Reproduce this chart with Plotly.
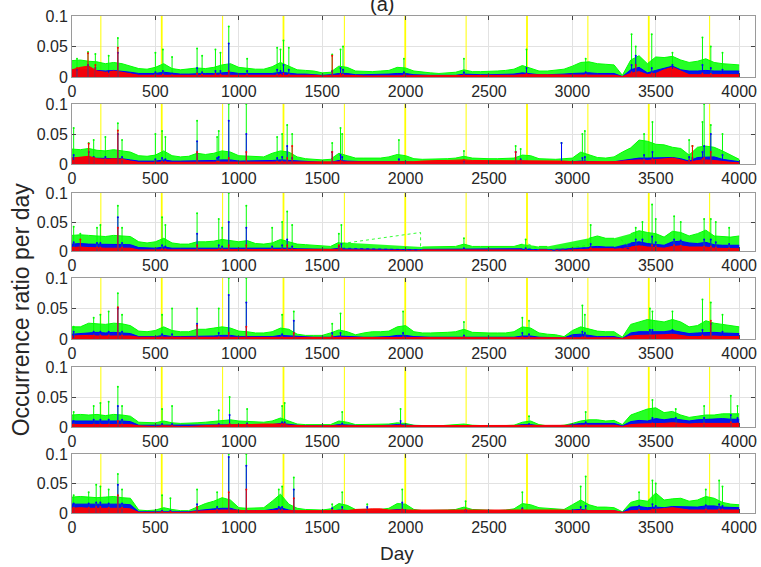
import plotly.graph_objects as go

# ---------------- data ----------------
days = list(range(0, 4001, 50))
year_marks = [173, 538, 903, 1268, 1633, 1998, 2363, 2728, 3093, 3458, 3823]
year_bright = [False, True, False, True, False, True, False, True, False, True, False]
x_ticks = [0, 500, 1000, 1500, 2000, 2500, 3000, 3500, 4000]
y_ticks = [0, 0.05, 0.1]
y_tick_text = ["0", "0.05", "0.1"]
N = None

# Panel 1
g1 = [0.027, 0.028, 0.026, 0.025, 0.022, 0.024, 0.022, 0.018, 0.014, 0.013,
      0.016, 0.022, 0.014, 0.012, 0.013, 0.015, 0.014, 0.016, 0.020, 0.022,
      0.016, 0.014, 0.013, 0.013, 0.017, 0.024, 0.018, 0.012, 0.011, 0.010,
      0.007, 0.008, 0.018, 0.016, 0.010, 0.009, 0.009, 0.010, 0.011, 0.016,
      0.015, 0.010, 0.008, 0.007, 0.006, 0.007, 0.008, 0.012, 0.009, 0.009,
      0.009, 0.010, 0.011, 0.013, 0.019, 0.015, 0.010, 0.010, 0.011, 0.013,
      0.018, 0.024, 0.025, 0.022, 0.021, 0.020, 0.003, 0.028, 0.035, 0.022,
      0.033, 0.032, 0.034, 0.028, 0.024, 0.026, 0.030, 0.024, 0.022, 0.021,
      0.020]
b1 = [0.012, 0.013, 0.012, 0.011, 0.010, 0.011, 0.010, 0.008, 0.006, 0.006,
      0.006, 0.008, 0.006, 0.005, 0.005, 0.006, 0.006, 0.006, 0.007, 0.008,
      0.006, 0.006, 0.005, 0.005, 0.006, 0.008, 0.006, 0.005, 0.005, 0.004,
      0.003, 0.004, 0.006, 0.006, 0.004, 0.004, 0.004, 0.004, 0.005, 0.006,
      0.006, 0.004, 0.003, 0.003, 0.003, 0.003, 0.003, 0.005, 0.004, 0.004,
      0.004, 0.004, 0.004, 0.005, 0.007, 0.005, 0.004, 0.004, 0.004, 0.005,
      0.006, 0.007, 0.007, 0.006, 0.006, 0.006, 0.001, 0.012, 0.016, 0.007,
      0.011, 0.014, 0.018, 0.012, 0.010, 0.010, 0.011, 0.010, 0.010, 0.010,
      0.010]
r1 = [0.012, 0.016, 0.018, 0.010, 0.008, 0.010, 0.008, 0.005, 0.003, 0.003,
      0.003, 0.004, 0.003, 0.003, 0.003, 0.003, 0.003, 0.003, 0.004, 0.004,
      0.003, 0.003, 0.003, 0.003, 0.003, 0.004, 0.003, 0.003, 0.003, 0.003,
      0.002, 0.003, 0.003, 0.003, 0.002, 0.002, 0.002, 0.002, 0.003, 0.003,
      0.003, 0.002, 0.002, 0.002, 0.002, 0.002, 0.002, 0.003, 0.002, 0.002,
      0.002, 0.002, 0.003, 0.003, 0.004, 0.004, 0.004, 0.004, 0.004, 0.004,
      0.003, 0.003, 0.003, 0.003, 0.003, 0.003, 0.001, 0.006, 0.009, 0.004,
      0.006, 0.012, 0.016, 0.010, 0.004, 0.004, 0.004, 0.004, 0.004, 0.004,
      0.004]
s1_days = [30, 96, 140, 220, 275, 500, 545, 600, 750, 780, 860, 890, 940, 1050, 1230, 1250,
           1268, 1300, 1560, 1610, 1625, 1990, 2350, 2725, 3080, 3355, 3380, 3476, 3600,
           3780, 3830, 3900]
s1_g = [0.030, 0.041, 0.038, 0.035, 0.064, 0.040, 0.045, 0.033, 0.047, 0.035, 0.045, 0.040,
        0.083, 0.030, 0.048, 0.045, 0.060, 0.048, 0.037, 0.045, 0.050, 0.030, 0.030, 0.045,
        0.030, 0.070, 0.050, 0.070, 0.040, 0.065, 0.050, 0.040]
s1_b = [0.012, 0.020, 0.015, 0.010, 0.040, 0.008, 0.010, 0.006, 0.015, 0.008, 0.010, 0.010,
        0.055, 0.010, 0.012, 0.010, 0.020, 0.012, 0.010, 0.015, 0.012, 0.008, 0.008, 0.015,
        0.008, 0.020, 0.035, 0.015, 0.020, 0.020, 0.015, 0.012]
s1_r = [0.015, 0.039, 0.020, 0.005, 0.048, 0.004, 0.004, 0.003, 0.006, 0.004, 0.005, 0.004,
        0.010, 0.004, 0.004, 0.004, 0.006, 0.004, 0.035, 0.005, 0.004, 0.003, 0.003, 0.005,
        0.004, 0.008, 0.020, 0.006, 0.012, 0.006, 0.005, 0.004]

# Panel 2
g2 = [0.025, 0.024, 0.026, 0.023, 0.022, 0.024, 0.022, 0.020, 0.014, 0.013,
      0.015, 0.022, 0.014, 0.012, 0.013, 0.018, 0.016, 0.018, 0.022, 0.020,
      0.014, 0.013, 0.012, 0.012, 0.018, 0.022, 0.020, 0.012, 0.009, 0.008,
      0.007, 0.008, 0.018, 0.014, 0.010, 0.010, 0.010, 0.010, 0.012, 0.016,
      0.014, 0.009, 0.008, 0.008, 0.008, 0.009, 0.010, 0.013, 0.010, 0.009,
      0.009, 0.009, 0.009, 0.010, 0.015, 0.014, 0.009, 0.008, 0.008, 0.009,
      0.010, 0.020, 0.016, 0.011, 0.010, 0.012, 0.020, 0.027, 0.040, 0.038,
      0.033, 0.032, 0.028, 0.026, 0.015, 0.028, 0.030, 0.028, 0.022, 0.015,
      0.008]
b2 = [0.010, 0.011, 0.010, 0.010, 0.009, 0.010, 0.009, 0.007, 0.005, 0.005,
      0.005, 0.007, 0.005, 0.005, 0.005, 0.006, 0.006, 0.006, 0.007, 0.007,
      0.005, 0.005, 0.005, 0.005, 0.006, 0.007, 0.006, 0.005, 0.004, 0.004,
      0.003, 0.003, 0.006, 0.005, 0.004, 0.004, 0.004, 0.004, 0.004, 0.005,
      0.004, 0.003, 0.003, 0.003, 0.003, 0.003, 0.003, 0.003, 0.003, 0.003,
      0.003, 0.003, 0.003, 0.004, 0.005, 0.004, 0.003, 0.003, 0.003, 0.003,
      0.004, 0.005, 0.004, 0.003, 0.003, 0.004, 0.006, 0.008, 0.010, 0.010,
      0.010, 0.011, 0.011, 0.009, 0.005, 0.011, 0.012, 0.012, 0.008, 0.006,
      0.004]
r2 = [0.010, 0.012, 0.013, 0.009, 0.008, 0.009, 0.008, 0.005, 0.003, 0.003,
      0.003, 0.004, 0.003, 0.003, 0.003, 0.003, 0.003, 0.003, 0.003, 0.003,
      0.003, 0.003, 0.003, 0.003, 0.003, 0.004, 0.003, 0.003, 0.003, 0.003,
      0.003, 0.003, 0.004, 0.004, 0.003, 0.003, 0.003, 0.003, 0.004, 0.004,
      0.004, 0.004, 0.005, 0.006, 0.006, 0.006, 0.007, 0.007, 0.006, 0.006,
      0.006, 0.006, 0.006, 0.006, 0.006, 0.006, 0.006, 0.006, 0.006, 0.005,
      0.004, 0.004, 0.004, 0.003, 0.003, 0.004, 0.005, 0.006, 0.007, 0.006,
      0.007, 0.009, 0.010, 0.007, 0.003, 0.006, 0.007, 0.006, 0.004, 0.003,
      0.002]
s2_days = [10, 100, 130, 200, 275, 300, 500, 540, 560, 750, 870, 880, 940, 1045, 1230, 1260,
           1290, 1320, 1560, 1610, 1620, 1960, 2350, 2660, 2690, 2935, 3060, 3075, 3430,
           3480, 3700, 3720, 3780, 3790, 3830, 3900]
s2_g = [0.060, 0.035, 0.040, 0.045, 0.068, 0.040, 0.050, 0.055, 0.045, 0.072, 0.045, 0.055,
        0.100, 0.100, 0.045, 0.050, 0.065, 0.050, 0.035, 0.060, 0.050, 0.040, 0.022, 0.030,
        0.025, 0.035, 0.050, 0.055, 0.050, 0.070, 0.040, 0.030, 0.070, 0.100, 0.065, 0.050]
s2_b = [0.015, 0.020, 0.012, 0.012, 0.050, 0.012, 0.008, 0.010, 0.008, 0.038, 0.010, 0.012,
        0.072, 0.050, 0.010, 0.012, 0.030, 0.010, 0.020, 0.015, 0.012, 0.008, 0.005, 0.020,
        0.008, 0.035, 0.010, 0.012, 0.015, 0.020, 0.012, 0.010, 0.020, 0.030, 0.050, 0.015]
s2_r = [0.005, 0.034, 0.010, 0.008, 0.056, 0.008, 0.004, 0.004, 0.004, 0.020, 0.004, 0.004,
        0.010, 0.020, 0.004, 0.004, 0.010, 0.030, 0.020, 0.005, 0.004, 0.004, 0.007, 0.020,
        0.006, 0.004, 0.004, 0.004, 0.007, 0.008, 0.006, 0.030, 0.008, 0.010, 0.020, 0.004]

# Panel 3 (None = missing days)
g3 = [0.027, 0.028, 0.027, 0.026, 0.025, 0.027, 0.026, 0.025, 0.016, 0.014,
      0.016, 0.022, 0.014, 0.012, 0.012, 0.016, 0.016, 0.017, 0.020, 0.018,
      0.016, 0.018, 0.013, 0.012, 0.014, 0.020, 0.016, 0.012, 0.011, 0.010,
      0.008, 0.008, 0.015, N, N, N, N, N, N, N,
      N, N, 0.007, 0.007, 0.007, 0.008, 0.008, 0.012, 0.008, 0.008,
      0.008, 0.008, 0.008, 0.008, 0.012, N, 0.008, 0.008, N, N,
      N, N, 0.022, 0.026, 0.022, 0.022, N, 0.030, 0.035, 0.032,
      0.030, 0.024, 0.034, 0.032, 0.026, 0.030, 0.036, 0.026, 0.025, 0.024,
      0.026]
b3 = [0.012, 0.013, 0.012, 0.012, 0.011, 0.012, 0.012, 0.011, 0.006, 0.005,
      0.005, 0.007, 0.005, 0.005, 0.005, 0.006, 0.005, 0.005, 0.006, 0.006,
      0.005, 0.006, 0.005, 0.005, 0.005, 0.006, 0.005, 0.004, 0.004, 0.004,
      0.003, 0.003, 0.005, N, N, N, N, N, N, N,
      N, N, 0.003, 0.003, 0.003, 0.003, 0.003, 0.004, 0.003, 0.003,
      0.003, 0.003, 0.003, 0.003, 0.004, N, 0.003, 0.003, N, N,
      N, N, 0.007, 0.008, 0.007, 0.007, N, 0.014, 0.016, 0.013,
      0.011, 0.010, 0.016, 0.017, 0.014, 0.013, 0.015, 0.011, 0.010, 0.010,
      0.010]
r3 = [0.006, 0.007, 0.006, 0.005, 0.005, 0.005, 0.005, 0.005, 0.002, 0.002,
      0.002, 0.003, 0.002, 0.002, 0.002, 0.002, 0.002, 0.002, 0.003, 0.002,
      0.002, 0.002, 0.002, 0.002, 0.002, 0.003, 0.002, 0.002, 0.002, 0.002,
      0.002, 0.002, 0.003, N, N, N, N, N, N, N,
      N, N, 0.002, 0.002, 0.002, 0.002, 0.002, 0.002, 0.002, 0.002,
      0.002, 0.002, 0.002, 0.002, 0.002, N, 0.002, 0.002, N, N,
      N, N, 0.004, 0.004, 0.004, 0.004, N, 0.007, 0.009, 0.007,
      0.006, 0.005, 0.008, 0.009, 0.007, 0.007, 0.007, 0.005, 0.005, 0.005,
      0.004]
s3_days = [10, 50, 150, 170, 275, 300, 540, 560, 750, 880, 900, 940, 1045, 1200, 1260, 1290,
           1320, 1600, 1615, 2350, 2720, 3110, 3380, 3420, 3478, 3500, 3610, 3650, 3790,
           3830, 3860, 3940]
s3_g = [0.042, 0.030, 0.040, 0.045, 0.078, 0.040, 0.058, 0.045, 0.065, 0.055, 0.040, 0.100,
        0.078, 0.040, 0.050, 0.068, 0.045, 0.030, 0.045, 0.022, 0.020, 0.045, 0.040, 0.050,
        0.080, 0.055, 0.060, 0.050, 0.055, 0.055, 0.050, 0.040]
s3_b = [0.015, 0.012, 0.014, 0.014, 0.058, 0.014, 0.010, 0.008, 0.030, 0.010, 0.008, 0.050,
        0.040, 0.008, 0.010, 0.020, 0.008, 0.008, 0.012, 0.005, 0.005, 0.012, 0.020, 0.020,
        0.025, 0.015, 0.020, 0.018, 0.020, 0.020, 0.015, 0.012]
s3_r = [0.006, 0.020, 0.006, 0.006, 0.040, 0.006, 0.003, 0.003, 0.010, 0.003, 0.003, 0.010,
        0.010, 0.003, 0.003, 0.010, 0.003, 0.010, 0.004, 0.002, 0.002, 0.005, 0.008, 0.008,
        0.010, 0.008, 0.010, 0.009, 0.008, 0.008, 0.006, 0.005]
# straight segments drawn across the missing days of panel 3
br3_days = [1620, 2090, 2090, None, 2735, 2800, None, 2880, 3100, None, 3290, 3340]
br3_g = [0.013, 0.032, 0.007, None, 0.012, 0.004, None, 0.002, 0.010, None, 0.020, 0.008]
br3_b = [0.005, 0.002, 0.003, None, 0.004, 0.002, None, 0.001, 0.006, None, 0.006, 0.004]

# Panel 4
g4 = [0.020, 0.020, 0.026, 0.025, 0.024, 0.026, 0.025, 0.022, 0.013, 0.012,
      0.014, 0.020, 0.014, 0.012, 0.012, 0.016, 0.016, 0.018, 0.020, 0.018,
      0.013, 0.012, 0.010, 0.010, 0.012, 0.018, 0.016, 0.008, 0.006, 0.006,
      0.006, 0.010, 0.015, 0.012, 0.007, 0.010, 0.012, 0.012, 0.013, 0.020,
      0.022, 0.012, 0.010, 0.010, 0.010, 0.011, 0.012, 0.016, 0.011, 0.010,
      0.010, 0.010, 0.010, 0.012, 0.020, 0.018, 0.010, 0.008, 0.007, 0.004,
      0.014, 0.020, 0.016, 0.013, 0.012, 0.012, 0.003, 0.024, 0.028, 0.032,
      0.030, 0.028, 0.032, 0.028, 0.020, 0.022, 0.030, 0.026, 0.024, 0.022,
      0.020]
b4 = [0.008, 0.009, 0.010, 0.011, 0.010, 0.011, 0.010, 0.009, 0.004, 0.004,
      0.004, 0.006, 0.004, 0.004, 0.004, 0.005, 0.005, 0.005, 0.006, 0.006,
      0.004, 0.004, 0.004, 0.004, 0.004, 0.006, 0.005, 0.004, 0.003, 0.003,
      0.003, 0.003, 0.005, 0.004, 0.003, 0.003, 0.003, 0.003, 0.004, 0.006,
      0.006, 0.004, 0.003, 0.003, 0.003, 0.003, 0.003, 0.004, 0.003, 0.003,
      0.003, 0.003, 0.003, 0.003, 0.005, 0.005, 0.003, 0.003, 0.003, 0.002,
      0.007, 0.008, 0.006, 0.004, 0.004, 0.004, 0.001, 0.010, 0.012, 0.012,
      0.011, 0.012, 0.014, 0.012, 0.009, 0.010, 0.011, 0.011, 0.010, 0.010,
      0.009]
r4 = [0.005, 0.006, 0.006, 0.005, 0.005, 0.006, 0.005, 0.005, 0.003, 0.003,
      0.003, 0.003, 0.003, 0.003, 0.003, 0.003, 0.003, 0.003, 0.003, 0.003,
      0.003, 0.003, 0.003, 0.003, 0.003, 0.003, 0.003, 0.003, 0.003, 0.003,
      0.003, 0.003, 0.003, 0.003, 0.003, 0.003, 0.003, 0.003, 0.003, 0.003,
      0.003, 0.003, 0.003, 0.003, 0.003, 0.003, 0.003, 0.003, 0.003, 0.003,
      0.003, 0.003, 0.003, 0.003, 0.003, 0.003, 0.003, 0.003, 0.003, 0.002,
      0.003, 0.003, 0.003, 0.002, 0.002, 0.002, 0.001, 0.005, 0.006, 0.006,
      0.007, 0.007, 0.008, 0.006, 0.004, 0.004, 0.005, 0.005, 0.004, 0.004,
      0.004]
s4_days = [10, 130, 170, 220, 275, 300, 540, 600, 750, 880, 940, 1045, 1260, 1330, 1560, 1610,
           1985, 2350, 2700, 2740, 3060, 3075, 3465, 3480, 3600, 3780, 3830, 3900]
s4_g = [0.020, 0.035, 0.040, 0.045, 0.075, 0.040, 0.040, 0.050, 0.050, 0.050, 0.100, 0.100,
        0.040, 0.045, 0.025, 0.042, 0.045, 0.028, 0.035, 0.030, 0.055, 0.040, 0.050, 0.045,
        0.045, 0.065, 0.060, 0.040]
s4_b = [0.012, 0.012, 0.012, 0.012, 0.050, 0.012, 0.008, 0.008, 0.025, 0.010, 0.072, 0.060,
        0.008, 0.030, 0.010, 0.010, 0.010, 0.006, 0.010, 0.008, 0.012, 0.010, 0.015, 0.015,
        0.015, 0.015, 0.025, 0.012]
s4_r = [0.000, 0.006, 0.006, 0.006, 0.052, 0.006, 0.003, 0.003, 0.022, 0.003, 0.010, 0.020,
        0.003, 0.010, 0.005, 0.003, 0.003, 0.003, 0.003, 0.003, 0.003, 0.003, 0.006, 0.006,
        0.007, 0.006, 0.030, 0.004]

# Panel 5
g5 = [0.020, 0.021, 0.020, 0.021, 0.019, 0.021, 0.020, 0.018, 0.008, 0.007,
      0.007, 0.010, 0.007, 0.006, 0.006, 0.007, 0.008, 0.009, 0.010, 0.012,
      0.010, 0.009, 0.008, 0.008, 0.010, 0.015, 0.010, 0.005, 0.004, 0.004,
      0.004, 0.004, 0.010, 0.008, 0.004, 0.004, 0.004, 0.004, 0.005, 0.007,
      0.006, 0.003, 0.002, 0.002, 0.002, 0.003, 0.003, 0.005, 0.003, 0.002,
      0.002, 0.002, 0.002, 0.003, 0.008, 0.010, 0.004, 0.002, 0.002, 0.003,
      0.006, 0.010, 0.012, 0.012, 0.010, 0.011, 0.004, 0.020, 0.025, 0.030,
      0.032, 0.024, 0.026, 0.020, 0.016, 0.018, 0.020, 0.020, 0.022, 0.022,
      0.022]
b5 = [0.010, 0.010, 0.011, 0.010, 0.010, 0.011, 0.010, 0.009, 0.003, 0.003,
      0.003, 0.003, 0.003, 0.003, 0.003, 0.003, 0.003, 0.003, 0.004, 0.004,
      0.004, 0.003, 0.003, 0.003, 0.004, 0.006, 0.004, 0.003, 0.002, 0.002,
      0.002, 0.002, 0.004, 0.003, 0.002, 0.002, 0.002, 0.002, 0.003, 0.004,
      0.003, 0.002, 0.002, 0.002, 0.002, 0.002, 0.002, 0.002, 0.002, 0.002,
      0.002, 0.002, 0.002, 0.002, 0.004, 0.004, 0.002, 0.002, 0.002, 0.002,
      0.004, 0.006, 0.006, 0.006, 0.005, 0.006, 0.002, 0.009, 0.011, 0.010,
      0.014, 0.012, 0.014, 0.012, 0.010, 0.012, 0.013, 0.013, 0.014, 0.013,
      0.013]
r5 = [0.004, 0.004, 0.004, 0.004, 0.004, 0.005, 0.004, 0.004, 0.002, 0.001,
      0.001, 0.002, 0.001, 0.001, 0.001, 0.002, 0.002, 0.003, 0.003, 0.004,
      0.004, 0.004, 0.005, 0.005, 0.005, 0.005, 0.003, 0.002, 0.002, 0.002,
      0.002, 0.002, 0.002, 0.002, 0.002, 0.002, 0.002, 0.002, 0.002, 0.002,
      0.002, 0.002, 0.002, 0.002, 0.002, 0.002, 0.002, 0.002, 0.002, 0.002,
      0.002, 0.002, 0.002, 0.002, 0.002, 0.002, 0.002, 0.002, 0.002, 0.002,
      0.003, 0.003, 0.003, 0.003, 0.003, 0.003, 0.001, 0.004, 0.005, 0.005,
      0.006, 0.006, 0.007, 0.006, 0.005, 0.006, 0.006, 0.006, 0.006, 0.006,
      0.006]
s5_days = [10, 130, 170, 220, 275, 300, 540, 600, 880, 945, 1050, 1260, 1275, 1620, 1970,
           2740, 3080, 3480, 3620, 3790, 3950, 3990]
s5_g = [0.025, 0.035, 0.040, 0.042, 0.067, 0.035, 0.030, 0.035, 0.028, 0.050, 0.030, 0.035,
        0.040, 0.025, 0.030, 0.018, 0.025, 0.045, 0.030, 0.035, 0.052, 0.035]
s5_b = [0.010, 0.012, 0.012, 0.012, 0.035, 0.012, 0.005, 0.005, 0.005, 0.020, 0.006, 0.008,
        0.008, 0.006, 0.010, 0.005, 0.008, 0.015, 0.015, 0.015, 0.020, 0.015]
s5_r = [0.004, 0.004, 0.004, 0.004, 0.010, 0.004, 0.002, 0.002, 0.003, 0.005, 0.004, 0.005,
        0.005, 0.002, 0.003, 0.002, 0.003, 0.006, 0.006, 0.006, 0.008, 0.006]

# Panel 6
g6 = [0.027, 0.028, 0.027, 0.026, 0.027, 0.028, 0.026, 0.025, 0.005, 0.004,
      0.005, 0.009, 0.006, 0.004, 0.004, 0.010, 0.016, 0.020, 0.026, 0.022,
      0.009, 0.008, 0.008, 0.009, 0.020, 0.032, 0.015, 0.008, 0.006, 0.005,
      0.005, 0.007, 0.016, 0.013, 0.006, 0.006, 0.006, 0.006, 0.008, 0.016,
      0.015, 0.006, 0.004, 0.004, 0.004, 0.005, 0.006, 0.010, 0.006, 0.005,
      0.004, 0.004, 0.005, 0.007, 0.016, 0.014, 0.009, 0.008, 0.006, 0.006,
      0.014, 0.022, 0.014, 0.010, 0.010, 0.009, 0.002, 0.018, 0.022, 0.020,
      0.034, 0.022, 0.024, 0.025, 0.020, 0.022, 0.028, 0.025, 0.018, 0.015,
      0.014]
b6 = [0.015, 0.015, 0.016, 0.015, 0.015, 0.016, 0.015, 0.014, 0.002, 0.002,
      0.002, 0.003, 0.002, 0.002, 0.002, 0.004, 0.006, 0.007, 0.008, 0.008,
      0.004, 0.004, 0.004, 0.004, 0.006, 0.009, 0.005, 0.003, 0.003, 0.003,
      0.003, 0.003, 0.005, 0.004, 0.003, 0.003, 0.003, 0.003, 0.004, 0.006,
      0.005, 0.002, 0.002, 0.002, 0.002, 0.002, 0.002, 0.003, 0.002, 0.002,
      0.002, 0.002, 0.002, 0.002, 0.004, 0.004, 0.003, 0.002, 0.002, 0.002,
      0.005, 0.006, 0.004, 0.004, 0.004, 0.004, 0.001, 0.010, 0.011, 0.009,
      0.010, 0.009, 0.011, 0.011, 0.010, 0.010, 0.012, 0.012, 0.010, 0.009,
      0.009]
r6 = [0.008, 0.009, 0.008, 0.008, 0.008, 0.009, 0.008, 0.007, 0.001, 0.001,
      0.001, 0.001, 0.001, 0.001, 0.001, 0.003, 0.004, 0.004, 0.005, 0.005,
      0.004, 0.004, 0.004, 0.004, 0.004, 0.005, 0.004, 0.004, 0.004, 0.004,
      0.004, 0.004, 0.004, 0.004, 0.006, 0.007, 0.007, 0.007, 0.005, 0.005,
      0.005, 0.005, 0.005, 0.006, 0.006, 0.006, 0.005, 0.005, 0.005, 0.005,
      0.005, 0.005, 0.005, 0.005, 0.006, 0.006, 0.006, 0.005, 0.005, 0.005,
      0.004, 0.004, 0.004, 0.004, 0.004, 0.004, 0.001, 0.004, 0.004, 0.004,
      0.006, 0.008, 0.009, 0.007, 0.005, 0.005, 0.005, 0.005, 0.005, 0.005,
      0.005]
s6_days = [10, 100, 145, 170, 220, 275, 300, 540, 590, 750, 870, 940, 1045, 1240, 1260, 1330,
           1560, 1620, 1770, 1980, 2360, 2700, 3050, 3080, 3400, 3480, 3500, 3800, 3880, 3900]
s6_g = [0.030, 0.035, 0.048, 0.045, 0.040, 0.066, 0.040, 0.030, 0.025, 0.040, 0.035, 0.100,
        0.100, 0.040, 0.045, 0.060, 0.015, 0.035, 0.015, 0.040, 0.020, 0.035, 0.045, 0.062,
        0.035, 0.055, 0.050, 0.040, 0.055, 0.045]
s6_b = [0.016, 0.016, 0.018, 0.018, 0.016, 0.048, 0.016, 0.004, 0.004, 0.015, 0.010, 0.095,
        0.080, 0.010, 0.010, 0.040, 0.008, 0.010, 0.010, 0.018, 0.004, 0.008, 0.010, 0.012,
        0.012, 0.015, 0.012, 0.013, 0.015, 0.012]
s6_r = [0.009, 0.009, 0.010, 0.010, 0.009, 0.030, 0.009, 0.002, 0.002, 0.010, 0.005, 0.035,
        0.040, 0.005, 0.005, 0.025, 0.005, 0.005, 0.005, 0.006, 0.006, 0.006, 0.005, 0.005,
        0.005, 0.006, 0.006, 0.006, 0.006, 0.006]

panels = [
    (g1, b1, r1, s1_days, s1_g, s1_b, s1_r, None),
    (g2, b2, r2, s2_days, s2_g, s2_b, s2_r, None),
    (g3, b3, r3, s3_days, s3_g, s3_b, s3_r, (br3_days, br3_g, br3_b)),
    (g4, b4, r4, s4_days, s4_g, s4_b, s4_r, None),
    (g5, b5, r5, s5_days, s5_g, s5_b, s5_r, None),
    (g6, b6, r6, s6_days, s6_g, s6_b, s6_r, None),
]

# ---------------- layout geometry ----------------
domains = [(0.877, 1.0), (0.702, 0.823), (0.527, 0.644),
           (0.350, 0.4728), (0.173, 0.2938), (0.0, 0.1187)]
GREEN, BLUE, RED, YELLOW = "#00FF00", "#0000FF", "#FF0000", "#FFFF00"
FILLS = {GREEN: "rgba(0,255,0,0.85)", BLUE: "rgba(0,0,255,0.9)", RED: "rgba(255,0,0,0.95)"}
TXT = "#262626"
FONT = "Liberation Sans Narrow, Arial Narrow, Liberation Sans, Arial, sans-serif"


def vlines(xs, ys):
    X, Y = [], []
    for x, y in zip(xs, ys):
        X += [x, x, None]
        Y += [0, y, None]
    return X, Y


fig = go.Figure()
layout = {}
for i, (g, b, r, sd, sg, sb, sr, br) in enumerate(panels):
    n = "" if i == 0 else str(i + 1)
    xa, ya = "x" + n, "y" + n
    # yearly yellow markers
    for bright in (False, True):
        xs = [d for d, t in zip(year_marks, year_bright) if t == bright]
        X, Y = vlines(xs, [0.1] * len(xs))
        fig.add_trace(go.Scatter(x=X, y=Y, mode="lines", xaxis=xa, yaxis=ya,
                                 line=dict(color=YELLOW, width=1.8 if bright else 1.0),
                                 hoverinfo="skip", showlegend=False))
    # bands
    for vals, col in ((g, GREEN), (b, BLUE), (r, RED)):
        fig.add_trace(go.Scatter(x=days, y=vals, mode="lines", xaxis=xa, yaxis=ya,
                                 fill="tozeroy", fillcolor=FILLS[col], connectgaps=False,
                                 line=dict(color=col, width=1), showlegend=False))
    # bridging segments across missing data
    if br is not None:
        fig.add_trace(go.Scatter(x=br[0], y=br[1], mode="lines", xaxis=xa, yaxis=ya,
                                 line=dict(color=GREEN, width=0.8, dash="dot"),
                                 showlegend=False))
        fig.add_trace(go.Scatter(x=br[0], y=br[2], mode="lines", xaxis=xa, yaxis=ya,
                                 line=dict(color=BLUE, width=0.8, dash="dot"),
                                 showlegend=False))
    # spikes
    for vals, col in ((sg, GREEN), (sb, BLUE), (sr, RED)):
        X, Y = vlines(sd, vals)
        fig.add_trace(go.Scatter(x=X, y=Y, mode="lines", xaxis=xa, yaxis=ya,
                                 line=dict(color=col, width=1), showlegend=False))
        fig.add_trace(go.Scatter(x=sd, y=vals, mode="markers", xaxis=xa, yaxis=ya,
                                 marker=dict(color=col, size=2), showlegend=False))
    axcommon = dict(showline=True, linecolor="#9a9a9a", linewidth=1, mirror="ticks",
                    ticks="inside", ticklen=4, tickcolor="#444444",
                    showgrid=True, gridcolor="#e2e2e2", gridwidth=1, zeroline=False,
                    tickfont=dict(family=FONT, size=16, color=TXT))
    layout["xaxis" + n] = dict(axcommon, domain=[0, 1], anchor=ya, range=[0, 4095],
                               tickvals=x_ticks, ticktext=[str(t) for t in x_ticks])
    layout["yaxis" + n] = dict(axcommon, domain=list(domains[i]), anchor=xa, range=[0, 0.1],
                               tickvals=y_ticks, ticktext=y_tick_text)

fig.update_layout(**layout)
fig.update_layout(
    width=761, height=567,
    margin=dict(l=72, r=4, t=16, b=54),
    paper_bgcolor="white", plot_bgcolor="white",
    showlegend=False,
    annotations=[
        dict(text="(a)", x=0.454, y=0.998, xref="paper", yref="paper", xanchor="center",
             yanchor="bottom", showarrow=False, font=dict(family="Liberation Sans", size=20, color=TXT)),
        dict(text="Occurrence ratio per day", x=-0.0745, y=0.41, xref="paper", yref="paper",
             textangle=-90, xanchor="center", yanchor="middle", showarrow=False,
             font=dict(family="Liberation Sans", size=23, color=TXT)),
        dict(text="Day", x=0.476, y=-0.0805, xref="paper", yref="paper", xanchor="center",
             yanchor="middle", showarrow=False, font=dict(family="Liberation Sans", size=19, color=TXT)),
    ],
)
fig.write_html("out.html", config={"displayModeBar": False},
               post_script="document.body.style.margin='0';")
